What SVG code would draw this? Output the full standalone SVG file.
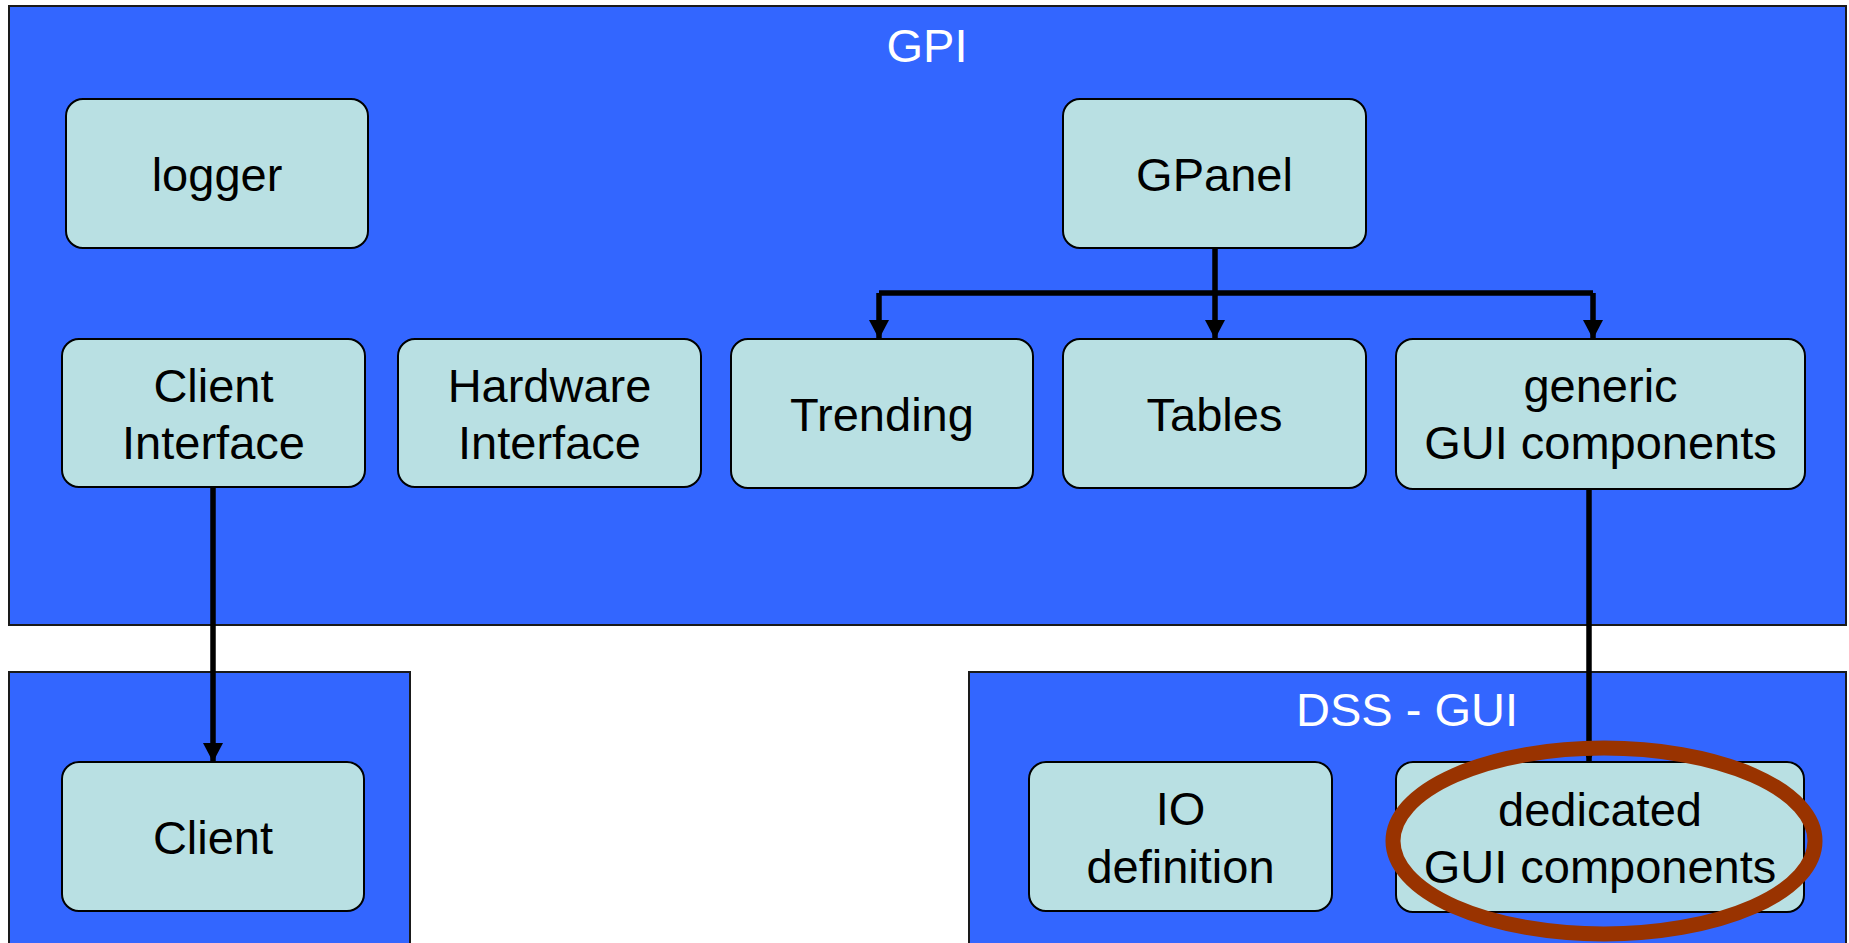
<svg xmlns="http://www.w3.org/2000/svg" width="1849" height="943" viewBox="0 0 1849 943">
<defs>
<style>
.container{fill:#3366FF;stroke:#1a1a1a;stroke-width:2}
.node{fill:#B9E0E3;stroke:#000;stroke-width:2}
.label{font-family:"Liberation Sans",Arial,sans-serif;font-size:47px;fill:#000;text-anchor:middle}
.title{font-family:"Liberation Sans",Arial,sans-serif;font-size:47px;fill:#fff;text-anchor:middle}
.conn{fill:none;stroke:#000;stroke-width:5.5}
</style>
<marker id="arrow" markerUnits="userSpaceOnUse" markerWidth="20" markerHeight="20" viewBox="0 0 18 18" refX="17" refY="9" orient="auto">
<path d="M0,0 L17,9 L0,18 Z" fill="#000"/>
</marker>
</defs>
<rect width="1849" height="943" fill="#fff"/>
<g id="containers">
<g id="gpi"><rect class="container" x="9" y="6" width="1837" height="619"/><text class="title" x="927" y="62">GPI</text></g>
<g id="client-pkg"><rect class="container" x="9" y="672" width="401" height="290"/></g>
<g id="dss-gui"><rect class="container" x="969" y="672" width="877" height="290"/><text class="title" x="1407" y="726">DSS - GUI</text></g>
</g>
<g id="nodes">
<g id="logger"><rect class="node" x="66" y="99" width="302" height="149" rx="17"/><text class="label" x="217" y="191">logger</text></g>
<g id="gpanel"><rect class="node" x="1063" y="99" width="303" height="149" rx="17"/><text class="label" x="1214.5" y="191">GPanel</text></g>
<g id="client-interface"><rect class="node" x="62" y="339" width="303" height="148" rx="17"/><text class="label" x="213.5" y="402">Client</text><text class="label" x="213.5" y="459">Interface</text></g>
<g id="hardware-interface"><rect class="node" x="398" y="339" width="303" height="148" rx="17"/><text class="label" x="549.5" y="402">Hardware</text><text class="label" x="549.5" y="459">Interface</text></g>
<g id="trending"><rect class="node" x="731" y="339" width="302" height="149" rx="17"/><text class="label" x="882" y="431">Trending</text></g>
<g id="tables"><rect class="node" x="1063" y="339" width="303" height="149" rx="17"/><text class="label" x="1214.5" y="431">Tables</text></g>
<g id="generic-gui"><rect class="node" x="1396" y="339" width="409" height="150" rx="17"/><text class="label" x="1600.5" y="402">generic</text><text class="label" x="1600.5" y="459">GUI components</text></g>
<g id="client"><rect class="node" x="62" y="762" width="302" height="149" rx="17"/><text class="label" x="213" y="854">Client</text></g>
<g id="io-definition"><rect class="node" x="1029" y="762" width="303" height="149" rx="17"/><text class="label" x="1180.5" y="825">IO</text><text class="label" x="1180.5" y="883">definition</text></g>
<g id="dedicated-gui"><rect class="node" x="1396" y="762" width="408" height="150" rx="17"/><text class="label" x="1600" y="826">dedicated</text><text class="label" x="1600" y="883">GUI components</text></g>
</g>
<g id="connectors">
<path class="conn" d="M1215,248 V293"/>
<path class="conn" d="M879,293 H1593"/>
<path class="conn" d="M879,293 V339" marker-end="url(#arrow)"/>
<path class="conn" d="M1215,293 V339" marker-end="url(#arrow)"/>
<path class="conn" d="M1593,293 V339" marker-end="url(#arrow)"/>
<path class="conn" d="M213,487 V762" marker-end="url(#arrow)"/>
<path class="conn" d="M1589,489 V762" marker-end="url(#arrow)"/>
</g>
<g id="highlight">
<ellipse cx="1604" cy="841" rx="211" ry="93" fill="none" stroke="#993300" stroke-width="15"/>
</g>
</svg>
